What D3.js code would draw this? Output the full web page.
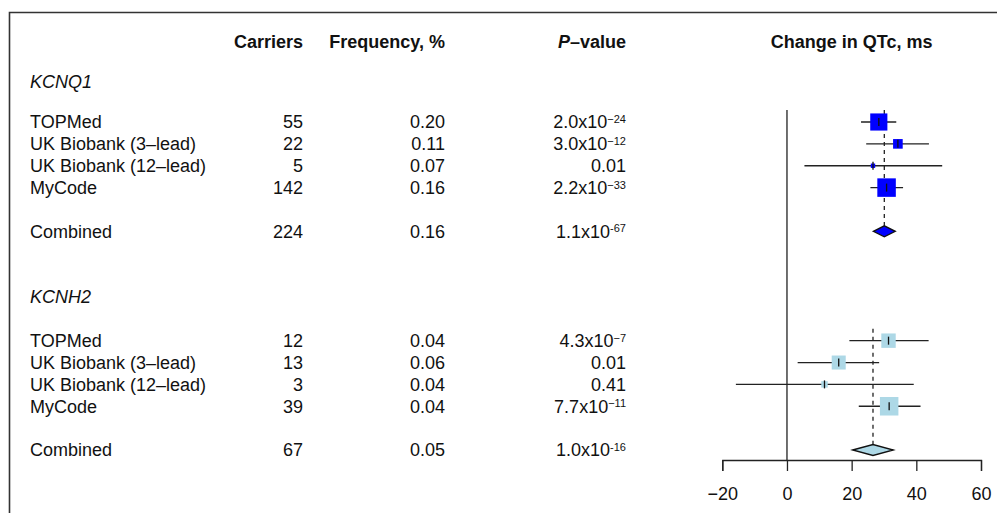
<!DOCTYPE html>
<html>
<head>
<meta charset="utf-8">
<script src="https://cdn.jsdelivr.net/npm/d3@7"></script>
<style>
body { margin: 0; background: #fff; }
svg { font-family: "Liberation Sans", Arial, Helvetica, sans-serif; }
</style>
</head>
<body>
<div id="chart"></div>
<script>
// data
var studies = ["TOPMed", "UK Biobank (3–lead)", "UK Biobank (12–lead)", "MyCode"];
var genes = ["KCNQ1", "KCNH2"];

var carriersQ1 = [55, 22, 5, 142], carriersQ1Comb = 224;
var carriersH2 = [12, 13, 3, 39], carriersH2Comb = 67;

var freqQ1 = ["0.20", "0.11", "0.07", "0.16"], freqQ1Comb = "0.16";
var freqH2 = ["0.04", "0.06", "0.04", "0.04"], freqH2Comb = "0.05";

// p-values as [mantissa, exponent]
var pQ1 = [["2.0", "−24"], ["3.0", "−12"], ["0.01", null], ["2.2", "−33"]], pQ1Comb = ["1.1", "-67"];
var pH2 = [["4.3", "−7"], ["0.01", null], ["0.41", null], ["7.7", "−11"]], pH2Comb = ["1.0", "-16"];

// change in QTc (ms): estimate, lower, upper
var estQ1 = [28.4, 34.3, 26.6, 30.8], loQ1 = [22.9, 24.5, 5.4, 25.8], hiQ1 = [33.8, 43.9, 48.0, 35.9];
var combQ1 = [30.1, 26.7, 33.5];
var estH2 = [31.4, 16.0, 11.6, 31.6], loH2 = [19.3, 3.3, -15.8, 22.2], hiH2 = [43.8, 28.5, 39.2, 41.3];
var combH2 = [26.6, 20.3, 32.9];

var xTicks = [-20, 0, 20, 40, 60];

var W = 997, H = 513, fs = 18;

var svg = d3.select("#chart").append("svg")
  .attr("width", W).attr("height", H);

// frame (only left and top edges visible in crop)
svg.append("path")
  .attr("d", "M9.5," + H + "V12.5H" + W)
  .attr("fill", "none").attr("stroke", "#333").attr("stroke-width", 1.6);

// row positions
var y = d3.scaleLinear().domain([0, 15]).range([122, 450]);
var x = d3.scaleLinear().domain([-20, 60]).range([722.3, 981]);

var colLabel = 30, colCarr = 303, colFreq = 445, colP = 626;

function txt(xx, yy, s, anchor) {
  return svg.append("text").attr("x", xx).attr("y", yy).attr("dy", "0.36em")
    .attr("text-anchor", anchor || "start").attr("font-size", fs).attr("fill", "#111").text(s);
}

// headers
var hy = y(-3.7);
txt(colCarr, hy, "Carriers", "end").attr("font-weight", "bold");
txt(colFreq, hy, "Frequency, %", "end").attr("font-weight", "bold");
var ph = txt(colP, hy, "", "end").attr("font-weight", "bold");
ph.append("tspan").attr("font-style", "italic").text("P");
ph.append("tspan").text("–value");
txt(x(20), hy, "Change in QTc, ms", "middle").attr("font-weight", "bold");

function pval(yy, p) {
  var t = txt(colP, yy, "", "end");
  if (p[1] == null) { t.text(p[0]); return; }
  t.append("tspan").text(p[0] + "x10");
  t.append("tspan").attr("font-size", 11).attr("dy", -5.5).text(p[1]);
}

var groups = [
  {gene: genes[0], row0: 0, carr: carriersQ1, carrC: carriersQ1Comb, freq: freqQ1, freqC: freqQ1Comb,
   p: pQ1, pC: pQ1Comb, est: estQ1, lo: loQ1, hi: hiQ1, comb: combQ1, col: "#0000FF"},
  {gene: genes[1], row0: 10, carr: carriersH2, carrC: carriersH2Comb, freq: freqH2, freqC: freqH2Comb,
   p: pH2, pC: pH2Comb, est: estH2, lo: loH2, hi: hiH2, comb: combH2, col: "#ADD8E6"}
];

// zero line
svg.append("line")
  .attr("x1", x(0)).attr("x2", x(0)).attr("y1", y(0) - 12).attr("y2", y(15) + 10)
  .attr("stroke", "#222").attr("stroke-width", 1.3);

groups.forEach(function(g) {
  var r0 = g.row0, rc = r0 + 5;
  txt(colLabel, y(r0 - 1.83) + (g.row0 ? -4 : 0), g.gene).attr("font-style", "italic");

  studies.forEach(function(s, i) {
    var yy = y(r0 + i);
    txt(colLabel, yy, s);
    txt(colCarr, yy, g.carr[i], "end");
    txt(colFreq, yy, g.freq[i], "end");
    pval(yy, g.p[i]);
  });
  txt(colLabel, y(rc), "Combined");
  txt(colCarr, y(rc), g.carrC, "end");
  txt(colFreq, y(rc), g.freqC, "end");
  pval(y(rc), g.pC);

  // box side ~ inverse CI width
  var widths = g.est.map(function(d, i) { return g.hi[i] - g.lo[i]; });
  var minW = d3.min(widths);
  var dh = 5.5;

  // dashed line at combined estimate
  svg.append("line")
    .attr("x1", x(g.comb[0])).attr("x2", x(g.comb[0]))
    .attr("y1", y(r0) - 12).attr("y2", y(rc) - dh)
    .attr("stroke", "#222").attr("stroke-width", 1.3).attr("stroke-dasharray", "4,4");

  g.est.forEach(function(e, i) {
    var yy = y(r0 + i);
    var side = 18.5 * minW / widths[i];
    svg.append("line")
      .attr("x1", x(g.lo[i])).attr("x2", x(g.hi[i])).attr("y1", yy).attr("y2", yy)
      .attr("stroke", "#222").attr("stroke-width", 1.3);
    svg.append("rect")
      .attr("x", x(e) - side / 2).attr("y", yy - side / 2)
      .attr("width", side).attr("height", side).attr("fill", g.col);
    svg.append("line")
      .attr("x1", x(e)).attr("x2", x(e)).attr("y1", yy - 4).attr("y2", yy + 4)
      .attr("stroke", "#111").attr("stroke-width", 1.3);
  });

  var yc = y(rc);
  svg.append("path")
    .attr("d", "M" + x(g.comb[1]) + "," + yc + "L" + x(g.comb[0]) + "," + (yc - dh) +
               "L" + x(g.comb[2]) + "," + yc + "L" + x(g.comb[0]) + "," + (yc + dh) + "Z")
    .attr("fill", g.col).attr("stroke", "#111").attr("stroke-width", 1.3);
});

// x axis
var ax = svg.append("g")
  .attr("transform", "translate(0," + (y(15) + 10) + ")")
  .call(d3.axisBottom(x).tickValues(xTicks).tickSize(11).tickPadding(16.4));
ax.selectAll("path, line").attr("stroke", "#222").attr("stroke-width", 1.3);
ax.selectAll("text").attr("font-size", fs).attr("fill", "#111")
  .attr("font-family", "Liberation Sans, Arial, sans-serif");
</script>
</body>
</html>
